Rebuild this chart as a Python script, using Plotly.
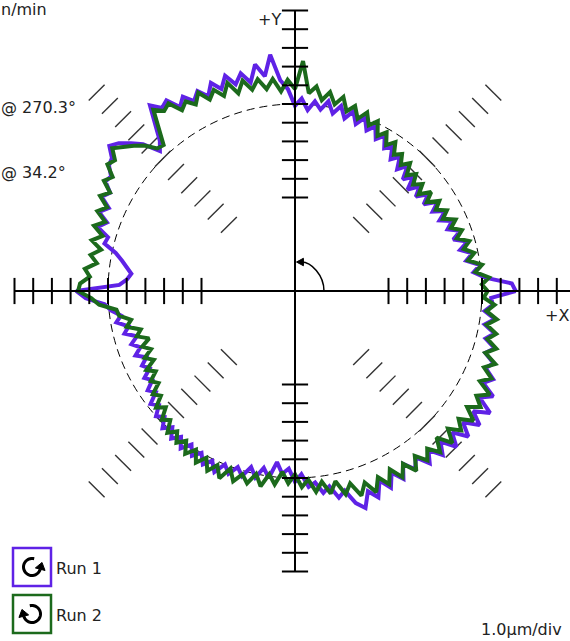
import numpy as np
import plotly.graph_objects as go

# ---------------- data ----------------
ANGLES_DEG = list(range(0, 360, 2))          # sample angle, degrees CCW from +X
RUN1_ERR_UM = [                              # radial deviation, µm (Run 1, purple)
    1.8, 1.6, 0.2, -0.4, 0.0, -0.7, -0.3, -0.9, -0.4, -1.1,
    -0.6, -1.2, -0.8, -1.4, -0.9, -1.5, -1.0, -1.7, -1.2, -1.8,
    -1.3, -1.9, -1.2, -1.7, -1.0, -1.5, -0.9, -1.3, -0.7, -1.0,
    -0.4, -0.8, -0.2, -0.6, 0.0, -0.5, 0.1, -0.4, 0.2, -0.3,
    0.3, -0.2, 0.2, -0.3, 0.3, -0.1, 0.8, 1.3, 2.7, 1.6,
    2.3, 1.4, 2.0, 1.5, 2.1, 1.5, 2.0, 1.4, 1.9, 1.5,
    2.0, 1.6, 2.3, 2.1, 2.6, 1.6, 0.8, 0.4, 1.3, 1.8,
    2.3, 2.6, 2.1, 2.0, 1.6, 1.7, 1.2, 1.5, 0.9, 1.3,
    0.7, 1.1, 0.4, 0.5, -0.2, -0.6, -0.9, -1.2, -1.0, -0.6,
    1.7, 1.2, 0.2, -0.1, -0.6, -0.3, -0.9, -0.6, -1.2, -0.8,
    -1.2, -0.8, -1.3, -0.9, -1.2, -0.7, -1.0, -0.5, -0.8, -0.2,
    -0.5, 0.0, -0.3, 0.2, -0.2, 0.3, -0.1, 0.4, -0.1, 0.4,
    0.0, 0.5, 0.1, 0.6, 0.0, 0.4, -0.1, 0.3, -0.3, 0.2,
    -0.4, 0.1, -0.8, -0.2, -0.5, 0.2, -0.2, 0.5, 0.3, 0.9,
    0.6, 1.3, 1.0, 1.8, 2.2, 1.4, 1.9, 1.1, 1.7, 1.0,
    1.6, 0.9, 1.5, 1.0, 1.7, 1.1, 1.8, 1.2, 2.0, 1.3,
    2.1, 1.4, 2.2, 1.5, 2.3, 1.4, 2.0, 1.2, 1.6, 1.0,
    1.3, 0.7, 1.1, 0.5, 0.9, 0.3, 0.8, 0.2, 0.6, 0.5,
]
RUN2_ERR_UM = [                              # radial deviation, µm (Run 2, green)
    0.3, 0.0, 0.4, -0.3, 0.1, -0.6, -0.2, -0.7, -0.3, -0.9,
    -0.5, -1.0, -0.6, -1.2, -0.8, -1.3, -0.9, -1.5, -1.0, -1.6,
    -1.1, -1.5, -1.0, -1.4, -0.8, -1.2, -0.7, -1.0, -0.4, -0.8,
    -0.2, -0.6, 0.1, -0.3, 0.3, -0.2, 0.4, 0.0, 0.7, 0.2,
    0.8, 0.3, 1.0, 0.6, 2.3, 0.8, 1.3, 0.7, 1.4, 0.9,
    1.5, 1.0, 1.6, 1.0, 1.7, 1.1, 1.6, 1.2, 1.8, 1.3,
    1.7, 1.4, 2.1, 1.9, 2.3, 1.3, 0.5, 0.6, 1.2, 1.6,
    2.0, 2.4, 1.9, 2.1, 1.5, 1.8, 1.2, 1.6, 1.0, 1.4,
    0.8, 1.3, 0.7, 1.2, 0.6, 1.1, 0.7, 1.3, 1.0, 1.5,
    1.6, 0.9, 0.5, -0.4, -0.5, -1.1, -0.8, -1.5, -1.2, -1.8,
    -1.3, -1.7, -1.2, -1.6, -1.0, -1.4, -0.9, -1.2, -0.6, -0.9,
    -0.3, -0.7, -0.1, -0.4, 0.2, -0.2, 0.3, -0.1, 0.5, 0.0,
    0.6, 0.1, 0.7, 0.2, 0.8, 0.1, 0.7, 0.2, 0.6, 0.0,
    0.6, -0.1, 0.4, -0.3, 0.3, -0.2, 0.5, 0.1, 0.8, 0.3,
    1.0, 0.4, 1.2, 0.7, 1.5, 0.9, 1.6, 0.9, 1.5, 0.8,
    1.5, 0.9, 1.6, 0.9, 1.5, 1.0, 1.6, 0.9, 1.7, 1.0,
    1.6, 1.1, 1.8, 1.1, 1.7, 1.2, 1.8, 1.0, 1.5, 0.9,
    1.4, 0.7, 1.2, 0.6, 1.0, 0.4, 0.9, 0.3, 0.7, 0.1,
]
RUN_NAMES = ["Run 1", "Run 2"]
REF_RADIUS_DIV = 10          # reference circle radius in divisions
UM_PER_DIV = 1.0             # scale: 1.0 µm/div
TICK_DIVS = list(range(5, 16))
HATCH_ANGLES_DEG = [45, 135, 225, 315]
SIDE_TEXTS = ["n/min", "@ 270.3°", "@ 34.2°"]
SCALE_LABEL = "1.0µm/div"

# ---------------- styling / layout ----------------
W, H = 570, 641
CX, CY = 295, 291            # centre of the plot, px
PX_PER_DIV = 18.7
COL1 = "#5f22e6"
COL2 = "#1c6a1c"
FONT = dict(family="DejaVu Sans", size=16, color="#222222")


def P(px, py):
    """pixel -> paper coordinates"""
    return px / W, 1 - py / H


fig = go.Figure()

# diagonal hatch marks
hl = 0.6
hx, hy = [], []
for a in HATCH_ANGLES_DEG:
    t = np.deg2rad(a)
    for d in TICK_DIVS:
        cx, cy = d * np.cos(t), d * np.sin(t)
        dx, dy = -np.sin(t) * hl, np.cos(t) * hl
        hx += [cx - dx, cx + dx, None]
        hy += [cy - dy, cy + dy, None]
fig.add_trace(go.Scatter(x=hx, y=hy, mode="lines",
                         line=dict(color="#333333", width=1.4), hoverinfo="skip"))

# runs
theta = np.deg2rad(np.array(ANGLES_DEG, dtype=float))
for err, col, name in [(RUN1_ERR_UM, COL1, RUN_NAMES[0]), (RUN2_ERR_UM, COL2, RUN_NAMES[1])]:
    r = REF_RADIUS_DIV + np.array(err) / UM_PER_DIV
    x = list(r * np.cos(theta)) + [r[0] * np.cos(theta[0])]
    y = list(r * np.sin(theta)) + [r[0] * np.sin(theta[0])]
    fig.add_trace(go.Scatter(x=x, y=y, mode="lines", name=name,
                             line=dict(color=col, width=4), hoverinfo="skip"))

# axes + ticks
th = 0.7
ax_x = [-TICK_DIVS[-1], TICK_DIVS[-1], None, 0, 0, None]
ax_y = [0, 0, None, -TICK_DIVS[-1], TICK_DIVS[-1], None]
for d in TICK_DIVS:
    for s in (-1, 1):
        ax_x += [s * d, s * d, None, -th, th, None]
        ax_y += [-th, th, None, s * d, s * d, None]
fig.add_trace(go.Scatter(x=ax_x, y=ax_y, mode="lines",
                         line=dict(color="black", width=2), hoverinfo="skip"))

shapes = []
# dashed reference circle
shapes.append(dict(type="circle", xref="x", yref="y",
                   x0=-REF_RADIUS_DIV, x1=REF_RADIUS_DIV, y0=-REF_RADIUS_DIV, y1=REF_RADIUS_DIV,
                   line=dict(color="black", width=1, dash="8px,5px"), layer="below"))
# direction arrow near the centre
ra = 1.55
k = 0.5523 * ra
shapes.append(dict(type="path", xref="x", yref="y",
                   path=f"M {ra},0 C {ra},{k} {k},{ra} 0.35,{ra}",
                   line=dict(color="black", width=1.5)))
shapes.append(dict(type="path", xref="x", yref="y",
                   path=f"M 0.08,{ra} L 0.45,{ra+0.2} L 0.45,{ra-0.2} Z",
                   fillcolor="black", line=dict(color="black", width=1)))

# legend boxes with rotation icons
def icon(cx, cy, a0, a1, ccw):
    rr = 8.5
    angs = np.deg2rad(np.linspace(a0, a1, 40))
    pts = [P(cx + rr * np.cos(a), cy - rr * np.sin(a)) for a in angs]
    path = "M " + " L ".join(f"{x:.5f},{y:.5f}" for x, y in pts)
    ae = angs[-1]
    ex, ey = cx + rr * np.cos(ae), cy - rr * np.sin(ae)
    if ccw:
        tx, ty = -np.sin(ae), -np.cos(ae)
    else:
        tx, ty = np.sin(ae), np.cos(ae)
    nx, ny = -ty, tx
    tip = P(ex + tx * 7, ey + ty * 7)
    b1 = P(ex + nx * 5, ey + ny * 5)
    b2 = P(ex - nx * 5, ey - ny * 5)
    return [dict(type="path", xref="paper", yref="paper", path=path,
                 line=dict(color="black", width=3)),
            dict(type="path", xref="paper", yref="paper",
                 path=f"M {tip[0]:.5f},{tip[1]:.5f} L {b1[0]:.5f},{b1[1]:.5f} L {b2[0]:.5f},{b2[1]:.5f} Z",
                 fillcolor="black", line=dict(color="black", width=1))]

for (top, col, ccw, a0, a1) in [(548, COL1, True, 75, 345), (595, COL2, False, 105, -165)]:
    x0, y1 = P(13, top)
    x1, y0 = P(51, top + 38)
    shapes.append(dict(type="rect", xref="paper", yref="paper", x0=x0, x1=x1, y0=y0, y1=y1,
                       line=dict(color=col, width=2.5), fillcolor="white"))
    shapes += icon(32, top + 19, a0, a1, ccw)

annotations = []
def ann(text, px, py, xanchor):
    x, y = P(px, py)
    annotations.append(dict(text=text, x=x, y=y, xref="paper", yref="paper",
                            xanchor=xanchor, yanchor="middle", showarrow=False,
                            font=FONT, borderpad=0))

ann(SIDE_TEXTS[0], 0, 10, "left")
ann(SIDE_TEXTS[1], 0, 107, "left")
ann(SIDE_TEXTS[2], 0, 172, "left")
ann("+Y", 282, 20, "right")
ann("+X", 544, 316, "left")
ann(SCALE_LABEL, 480, 629, "left")
ann(RUN_NAMES[0], 55, 568, "left")
ann(RUN_NAMES[1], 55, 615, "left")

fig.update_layout(
    width=W, height=H, margin=dict(l=0, r=0, t=0, b=0),
    paper_bgcolor="white", plot_bgcolor="white", showlegend=False,
    xaxis=dict(range=[-CX / PX_PER_DIV, (W - CX) / PX_PER_DIV], visible=False, fixedrange=True),
    yaxis=dict(range=[-(H - CY) / PX_PER_DIV, CY / PX_PER_DIV], visible=False, fixedrange=True),
    shapes=shapes, annotations=annotations,
)

fig.write_html("out.html", config={"displayModeBar": False},
               post_script="document.body.style.margin='0';")
